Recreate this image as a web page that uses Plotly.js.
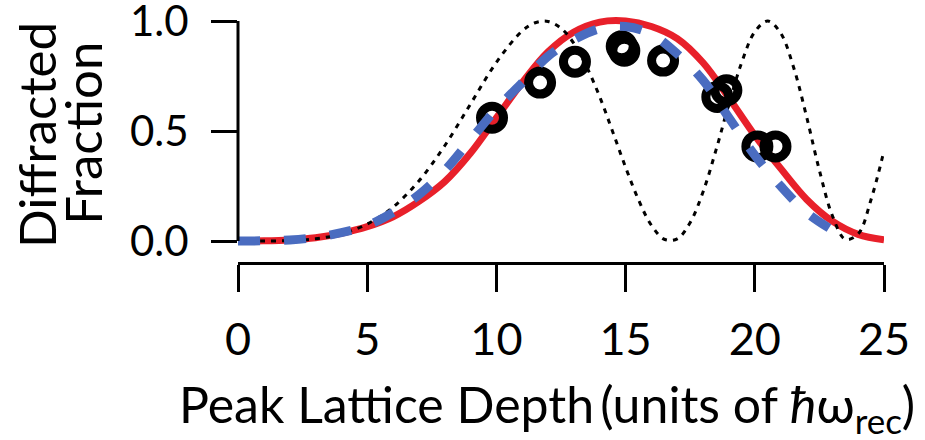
<!DOCTYPE html>
<html>
<head>
<meta charset="utf-8">
<script src="https://cdn.plot.ly/plotly-3.0.1.min.js"></script>
<style>html,body{margin:0;padding:0;background:#fff;}#chart{width:925px;height:440px;}</style>
</head>
<body>
<div id="chart"></div>
<script>
// Red solid curve (model)
var redX = [0,1,2,3,4,5,6,7,8,9,10,11,12,13,14,15,16,17,18,19,20,21,22,23,24,25];
var redY = [0,0.001,0.005,0.015,0.035,0.065,0.11,0.18,0.27,0.40,0.56,0.72,0.86,0.95,0.995,1.0,0.975,0.92,0.81,0.65,0.48,0.33,0.19,0.09,0.03,0.005];

// Black dotted curve
var dotX = [0,1,2,3,4,5,6,7,8,9,10,11,11.5,12,12.5,13,13.5,14,14.5,15,15.5,16,16.5,17,17.5,18,18.5,19,19.5,20,20.5,21,21.5,22,22.5,23,23.5,24,24.5,25];
var dotY = [0,0.0001,0.002,0.010,0.032,0.077,0.154,0.273,0.433,0.623,0.812,0.955,0.992,0.998,0.967,0.898,0.79,0.655,0.497,0.335,0.187,0.071,0.008,0.010,0.084,0.224,0.414,0.623,0.814,0.951,1.0,0.945,0.79,0.567,0.321,0.116,0.008,0.032,0.189,0.41];

// Blue dashed curve
var blueX = [0,1,2,3,4,5,6,7,8,9,10,11,12,13,14,15,16,17,18,19,20,21,22,23];
var blueY = [0,0.001,0.005,0.016,0.038,0.07,0.13,0.21,0.32,0.46,0.60,0.72,0.84,0.915,0.965,0.975,0.94,0.85,0.73,0.56,0.39,0.25,0.13,0.05];

// Measured points (open circles)
var ptsX = [9.83,11.69,13.04,14.85,14.95,16.45,18.55,18.9,20.1,20.8];
var ptsY = [0.56,0.72,0.815,0.885,0.865,0.82,0.655,0.685,0.43,0.43];

var xTicks = [0,5,10,15,20,25];
var yTicks = [0,0.5,1];
var yTickText = ['0.0','0.5','1.0'];

var xTitle = 'Peak Lattice Depth\u2009(units of <i>ħ</i>ω<sub>rec</sub>)';
var yTitle1 = 'Diffracted';
var yTitle2 = 'Fraction';

var FONT = 'Lato, "Open Sans", sans-serif';

var traces = [
  {x: redX, y: redY, mode: 'lines', line: {color: '#e8202a', width: 7, shape: 'spline'}, hoverinfo: 'skip'},
  {x: dotX, y: dotY, mode: 'lines', line: {color: '#000', width: 3, dash: '5px,6px', shape: 'spline'}, hoverinfo: 'skip'},
  {x: ptsX, y: ptsY, mode: 'markers', cliponaxis: false,
   marker: {symbol: 'circle-open', size: 23, color: '#000', line: {color: '#000', width: 9}}},
  {x: blueX, y: blueY, mode: 'lines', line: {color: '#4a6cc0', width: 9, dash: '22px,24px', shape: 'spline'}, hoverinfo: 'skip'}
];

var layout = {
  width: 925, height: 440,
  margin: {l: 238, r: 41, t: 16, b: 178, pad: 0},
  paper_bgcolor: '#fff', plot_bgcolor: 'rgba(0,0,0,0)',
  showlegend: false,
  font: {family: FONT, color: '#000'},
  xaxis: {
    range: [0, 25], showgrid: false, zeroline: false,
    showline: true, linecolor: '#000', linewidth: 3,
    ticks: 'outside', ticklen: 27, tickwidth: 3, tickcolor: '#000',
    tickvals: xTicks, ticklabelstandoff: 9,
    tickfont: {family: FONT, size: 45, color: '#000'},
    automargin: false
  },
  yaxis: {
    range: [-0.09545, 1.02273], showgrid: false, zeroline: false,
    showline: false,
    ticks: 'outside', ticklen: 26, tickwidth: 3, tickcolor: '#000',
    tickvals: yTicks, ticktext: yTickText, ticklabelstandoff: 14,
    ticklabeloverflow: 'allow',
    tickfont: {family: FONT, size: 42, color: '#000'},
    automargin: false
  },
  shapes: [
    {type: 'line', xref: 'paper', yref: 'y', x0: 0, x1: 0, y0: 0, y1: 1, line: {color: '#000', width: 3}}
  ],
  annotations: [
    {text: xTitle, xref: 'paper', yref: 'paper', x: 0.478, y: -0.447, xanchor: 'center', yanchor: 'top',
     showarrow: false, font: {family: FONT, size: 50, color: '#000'}},
    {text: yTitle1, xref: 'paper', yref: 'paper', x: -0.311, y: 0.517, xanchor: 'center', yanchor: 'middle',
     textangle: -90, showarrow: false, font: {family: FONT, size: 51, color: '#000'}},
    {text: yTitle2, xref: 'paper', yref: 'paper', x: -0.240, y: 0.525, xanchor: 'center', yanchor: 'middle',
     textangle: -90, showarrow: false, font: {family: FONT, size: 51, color: '#000'}}
  ]
};

Plotly.newPlot('chart', traces, layout, {displayModeBar: false, staticPlot: true});
</script>
</body>
</html>
